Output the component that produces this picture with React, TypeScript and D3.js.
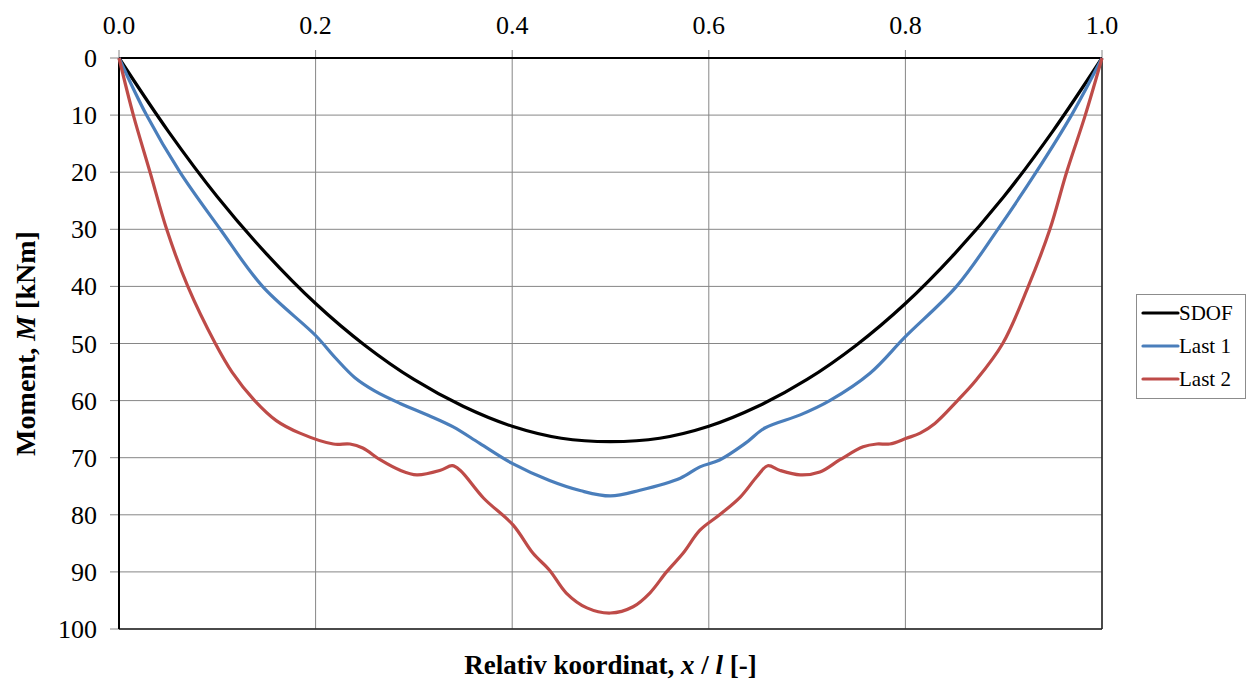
import React from "react";
import * as d3 from "d3";

const W = 1247;
const H = 683;
const MARGIN = { top: 58, right: 145, bottom: 54, left: 119 };

// x positions are relative coordinate x/l, values are moment in kNm
const sdofX = [0, 0.05, 0.1, 0.15, 0.2, 0.25, 0.3, 0.35, 0.4, 0.45, 0.5, 0.55, 0.6, 0.65, 0.7, 0.75, 0.8, 0.85, 0.9, 0.95, 1];
const sdofM = [0, 12.8, 24.3, 34.3, 43, 50.3, 56.3, 61, 64.5, 66.6, 67.2, 66.6, 64.5, 61, 56.3, 50.3, 43, 34.3, 24.3, 12.8, 0];

const last1X = [0, 0.028, 0.062, 0.103, 0.146, 0.2, 0.22, 0.24, 0.26, 0.286, 0.315, 0.34, 0.367, 0.4, 0.438, 0.47, 0.5, 0.53, 0.571, 0.591, 0.611, 0.637, 0.657, 0.693, 0.723, 0.764, 0.8, 0.852, 0.894, 0.933, 0.969, 1];
const last1M = [0, 10, 20, 30, 40, 48.6, 52.5, 56, 58.3, 60.5, 62.6, 64.6, 67.5, 71, 74, 75.8, 76.7, 75.7, 73.6, 71.6, 70.4, 67.5, 64.8, 62.5, 60, 55.2, 48.8, 40, 30, 20, 10, 0];

const last2X = [0, 0.0146, 0.0316, 0.0485, 0.07, 0.098, 0.115, 0.138, 0.16, 0.184, 0.218, 0.235, 0.248, 0.266, 0.286, 0.303, 0.327, 0.339, 0.347, 0.371, 0.401, 0.421, 0.438, 0.455, 0.476, 0.5, 0.523, 0.54, 0.557, 0.574, 0.591, 0.611, 0.632, 0.649, 0.66, 0.672, 0.693, 0.713, 0.733, 0.757, 0.771, 0.784, 0.801, 0.815, 0.83, 0.853, 0.872, 0.899, 0.925, 0.947, 0.964, 0.983, 1];
const last2M = [0, 10, 20, 30, 40, 50, 55, 60, 63.5, 65.7, 67.6, 67.6, 68.3, 70.4, 72.2, 73, 72.2, 71.4, 72.2, 77.1, 81.8, 86.7, 89.7, 93.7, 96.3, 97.2, 96.1, 93.7, 90, 86.7, 82.7, 80, 76.9, 73.3, 71.4, 72.2, 73, 72.5, 70.4, 68.1, 67.6, 67.6, 66.6, 65.7, 64, 60, 56.4, 50, 40, 30, 20, 10, 0];

const xTicks = [0, 0.2, 0.4, 0.6, 0.8, 1.0];
const yTicks = [0, 10, 20, 30, 40, 50, 60, 70, 80, 90, 100];

const series = [
  { name: "SDOF", xs: sdofX, ys: sdofM, color: "#000000" },
  { name: "Last 1", xs: last1X, ys: last1M, color: "#4a7ebb" },
  { name: "Last 2", xs: last2X, ys: last2M, color: "#be4b48" },
];

const FONT = "'Liberation Serif', 'Times New Roman', serif";

export default function App() {
  const right = W - MARGIN.right;
  const bottom = H - MARGIN.bottom;
  const x = d3.scaleLinear().domain([0, 1]).range([MARGIN.left, right]);
  const y = d3.scaleLinear().domain([0, 100]).range([MARGIN.top, bottom]);

  const line = d3
    .line<[number, number]>()
    .x((d) => x(d[0]))
    .y((d) => y(d[1]))
    .curve(d3.curveCatmullRom.alpha(0.5));

  return (
    <svg
      width={W}
      height={H}
      style={{ position: "absolute", left: 0, top: 0, background: "#fff", fontFamily: FONT }}
    >
      {/* grid */}
      {xTicks.map((t) => (
        <line key={"gx" + t} x1={x(t)} x2={x(t)} y1={MARGIN.top - 8} y2={bottom} stroke="#868686" strokeWidth={1} />
      ))}
      {yTicks.map((t) => (
        <line key={"gy" + t} x1={MARGIN.left - 9} x2={right} y1={y(t)} y2={y(t)} stroke="#868686" strokeWidth={1} />
      ))}
      {/* frame */}
      <line x1={right} x2={right} y1={MARGIN.top} y2={bottom} stroke="#222" strokeWidth={1.5} />
      <line x1={MARGIN.left} x2={right} y1={bottom} y2={bottom} stroke="#222" strokeWidth={1.5} />
      <line x1={MARGIN.left} x2={right} y1={MARGIN.top} y2={MARGIN.top} stroke="#000" strokeWidth={2} />
      <line x1={MARGIN.left} x2={MARGIN.left} y1={MARGIN.top} y2={bottom} stroke="#000" strokeWidth={2} />

      {/* tick labels */}
      {xTicks.map((t) => (
        <text key={"tx" + t} x={x(t)} y={34} textAnchor="middle" fontSize={26} fontFamily={FONT}>
          {d3.format(".1f")(t)}
        </text>
      ))}
      {yTicks.map((t) => (
        <text key={"ty" + t} x={97} y={y(t) + 9} textAnchor="end" fontSize={26} fontFamily={FONT}>
          {t}
        </text>
      ))}

      {/* curves */}
      {series.map((s) => (
        <path
          key={s.name}
          d={line(s.xs.map((v, i) => [v, s.ys[i]] as [number, number])) || ""}
          fill="none"
          stroke={s.color}
          strokeWidth={3.2}
          strokeLinejoin="round"
        />
      ))}

      {/* axis titles */}
      <text
        transform={`translate(35, ${(MARGIN.top + bottom) / 2}) rotate(-90)`}
        textAnchor="middle"
        fontSize={28}
        fontWeight="bold"
        fontFamily={FONT}
      >
        Moment, <tspan fontStyle="italic">M</tspan> [kNm]
      </text>
      <text x={(MARGIN.left + right) / 2} y={674} textAnchor="middle" fontSize={27} fontWeight="bold" fontFamily={FONT}>
        Relativ koordinat, <tspan fontStyle="italic">x</tspan> / <tspan fontStyle="italic">l</tspan> [-]
      </text>

      {/* legend */}
      <rect x={1136.5} y={294.5} width={109} height={104} fill="#fff" stroke="#8c8c8c" strokeWidth={1} />
      {series.map((s, i) => (
        <g key={"lg" + s.name} transform={`translate(1143, ${313 + i * 33})`}>
          <line x1={0} x2={35} y1={0} y2={0} stroke={s.color} strokeWidth={3.2} strokeLinecap="round" />
          <text x={36} y={7} fontSize={21} fontFamily={FONT}>
            {s.name}
          </text>
        </g>
      ))}
    </svg>
  );
}
